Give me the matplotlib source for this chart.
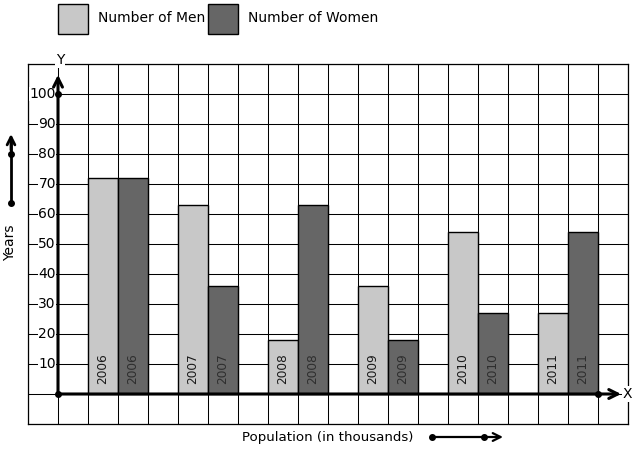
import numpy as np
import matplotlib
matplotlib.use("Agg")
import matplotlib.pyplot as plt
from matplotlib.patches import Rectangle

years = ['2006', '2007', '2008', '2009', '2010', '2011']
men = [72, 63, 18, 36, 54, 27]
women = [72, 36, 63, 18, 27, 54]
ytick_vals = [10, 20, 30, 40, 50, 60, 70, 80, 90, 100]
series_names = ['Number of Men', 'Number of Women']

MEN_C = '#c8c8c8'
WOMEN_C = '#666666'

W, H = 636, 450
fig = plt.figure(figsize=(W / 100, H / 100), dpi=100)
fig.patch.set_facecolor('white')

def fx(px):
    return px / W

def fy(py):
    return 1 - py / H

ax = fig.add_axes([fx(28), fy(424), 600 / W, 360 / H])
ax.set_xlim(-1, 19)
ax.set_ylim(-10, 110)
ax.set_xticks(np.arange(-1, 20))
ax.set_yticks(np.arange(-10, 111, 10))
ax.grid(True, color='black', linewidth=0.75)
ax.set_axisbelow(True)
ax.tick_params(length=0, labelbottom=False, labelleft=False)
for s in ax.spines.values():
    s.set_linewidth(0.9)
    s.set_color('black')

x = np.arange(len(years)) * 3 + 1
ax.bar(x, men, width=1, align='edge', color=MEN_C, edgecolor='black', linewidth=1, zorder=2)
ax.bar(x + 1, women, width=1, align='edge', color=WOMEN_C, edgecolor='black', linewidth=1, zorder=2)

for xi, yr in zip(x, years):
    ax.text(xi + 0.5, 3.4, yr, rotation=90, ha='center', va='bottom', fontsize=8.7, color='#1a1a1a', zorder=4)
    ax.text(xi + 1.5, 3.4, yr, rotation=90, ha='center', va='bottom', fontsize=8.7, color='#2e2e2e', zorder=4)

# y tick labels
for v in ytick_vals:
    ax.text(-0.07, v, str(v), ha='right', va='center', fontsize=10, zorder=4,
            bbox=dict(facecolor='white', edgecolor='none', pad=0.3))

# axes with arrows
ax.annotate('', xy=(0, 106.4), xytext=(0, 0),
            arrowprops=dict(arrowstyle='->', lw=2.2, color='black', mutation_scale=16,
                            shrinkA=0, shrinkB=0), zorder=5, annotation_clip=False)
ax.annotate('', xy=(18.77, 0), xytext=(0, 0),
            arrowprops=dict(arrowstyle='->', lw=2.2, color='black', mutation_scale=16,
                            shrinkA=0, shrinkB=0), zorder=5, annotation_clip=False)
ax.plot([0, 0, 18], [0, 100, 0], 'o', color='black', markersize=4, zorder=6, clip_on=False)

ax.text(0.07, 111.3, 'Y', ha='center', va='center', fontsize=10, zorder=6, clip_on=False,
        bbox=dict(facecolor='white', edgecolor='none', pad=0.5))
ax.text(18.97, 0.0, 'X', ha='center', va='center', fontsize=10, zorder=6, clip_on=False,
        bbox=dict(facecolor='white', edgecolor='none', pad=0.5))

# Legend
fig.add_artist(Rectangle((fx(58), fy(34)), 30 / W, 30 / H, transform=fig.transFigure,
                         facecolor=MEN_C, edgecolor='black', linewidth=1))
fig.add_artist(Rectangle((fx(208), fy(34)), 30 / W, 30 / H, transform=fig.transFigure,
                         facecolor=WOMEN_C, edgecolor='black', linewidth=1))
fig.text(fx(98), fy(18), series_names[0], ha='left', va='center', fontsize=10)
fig.text(fx(248), fy(18), series_names[1], ha='left', va='center', fontsize=10)

# Years label and arrow
fig.text(fx(10), fy(243), 'Years', rotation=90, ha='center', va='center', fontsize=10)
fig.add_artist(plt.Line2D([fx(11), fx(11)], [fy(203), fy(140)], transform=fig.transFigure,
                          color='black', lw=2))
ax.annotate('', xy=(fx(11), fy(134)), xytext=(fx(11), fy(150)), xycoords='figure fraction',
            textcoords='figure fraction',
            arrowprops=dict(arrowstyle='->', lw=2, color='black', mutation_scale=14,
                            shrinkA=0, shrinkB=0), annotation_clip=False)
fig.add_artist(plt.Line2D([fx(11), fx(11)], [fy(203), fy(154)], transform=fig.transFigure,
                          color='black', lw=0, marker='o', markersize=4))

# Population label and arrow
fig.text(fx(328), fy(437), 'Population (in thousands)', ha='center', va='center', fontsize=9.6)
ax.annotate('', xy=(fx(503), fy(437)), xytext=(fx(432), fy(437)), xycoords='figure fraction',
            textcoords='figure fraction',
            arrowprops=dict(arrowstyle='->', lw=1.6, color='black', mutation_scale=14,
                            shrinkA=0, shrinkB=0), annotation_clip=False)
fig.add_artist(plt.Line2D([fx(432), fx(484)], [fy(437), fy(437)], transform=fig.transFigure,
                          color='black', lw=0, marker='o', markersize=4))

fig.savefig('out.png', dpi=100, facecolor='white')
